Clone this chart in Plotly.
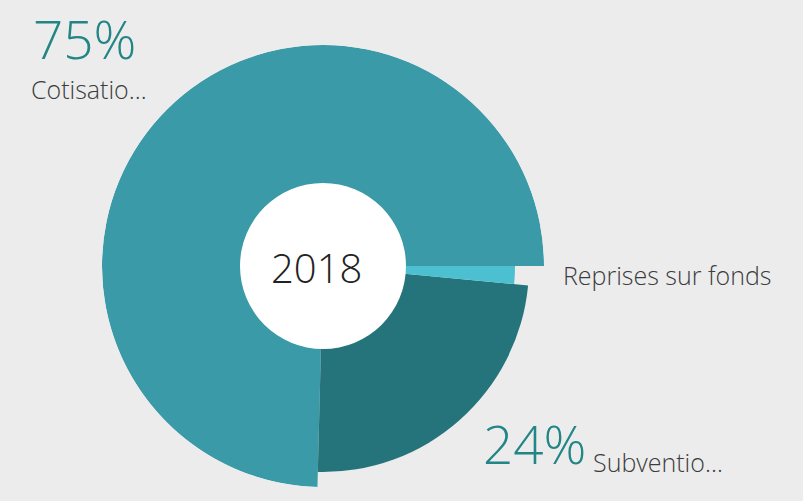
import plotly.graph_objects as go

# Values
names = ["Cotisations", "Subventions", "Reprises sur fonds"]
short_names = ["Cotisatio…", "Subventio…", "Reprises sur fonds"]
shares = [74.6, 23.9, 1.5]
radii = [221, 206, 192]
colors = ["#3a9aa8", "#25737b", "#4cc0d1"]
year = "2018"
hole_r = 83

W, H = 803, 501
cx, cy, rmax = 323, 266, 221


def px(x):
    return x / W


def py(y):
    return 1 - y / H


# Angular widths and centres, counterclockwise from 3 o'clock
widths = [s * 3.6 for s in shares]
thetas = []
start = 0
for w in widths:
    thetas.append(start + w / 2)
    start += w

fig = go.Figure()

for name, r, t, w, c in zip(names, radii, thetas, widths, colors):
    fig.add_trace(
        go.Barpolar(
            r=[r],
            theta=[t],
            width=[w],
            name=name,
            marker={"color": c, "line": {"width": 0}},
            hoverinfo="name",
        )
    )

# White centre disc
fig.add_trace(
    go.Barpolar(
        r=[hole_r],
        theta=[0],
        width=[360],
        marker={"color": "white", "line": {"width": 0}},
        hoverinfo="skip",
    )
)

fig.update_layout(
    width=W,
    height=H,
    margin=dict(l=0, r=0, t=0, b=0),
    paper_bgcolor="#ececec",
    showlegend=False,
    polar=dict(
        domain=dict(x=[px(cx - rmax), px(cx + rmax)], y=[py(cy + rmax), py(cy - rmax)]),
        bgcolor="rgba(0,0,0,0)",
        radialaxis=dict(visible=False, range=[0, rmax]),
        angularaxis=dict(visible=False, rotation=0, direction="counterclockwise"),
    ),
)

pct_font = dict(family="Open Sans", size=53, color="#238585", weight=300)
name_font = dict(family="Open Sans", size=25, color="#3c3c3c", weight=300)

annotations = [
    dict(x=px(31), y=py(38), text=f"{round(shares[0])}%", font=pct_font, height=52),
    dict(x=px(29), y=py(89), text=short_names[0], font=name_font, height=28),
    dict(x=px(561), y=py(275), text=short_names[2], font=name_font),
    dict(x=px(481), y=py(443), text=f"{round(shares[1])}%", font=pct_font, height=52),
    dict(x=px(591), y=py(462), text=short_names[1], font=name_font),
    dict(
        x=px(cx - 7),
        y=py(cy + 1),
        text=year,
        font=dict(family="Open Sans", size=40, color="#222222", weight=300),
        xanchor="center",
    ),
]
for a in annotations:
    a.setdefault("xanchor", "left")
    fig.add_annotation(xref="paper", yref="paper", yanchor="middle", showarrow=False, **a)

fig.write_html(
    "out.html",
    config={"displayModeBar": False},
    post_script="document.body.style.margin='0';",
)
